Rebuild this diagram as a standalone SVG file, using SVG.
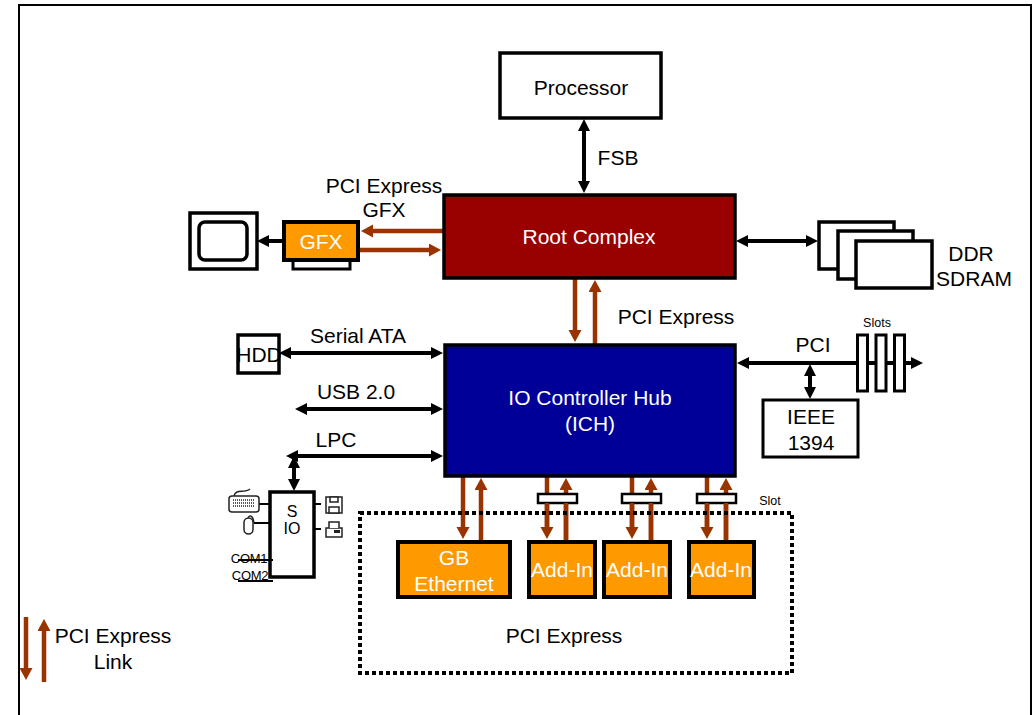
<svg xmlns="http://www.w3.org/2000/svg" width="1034" height="715" viewBox="0 0 1034 715">
<style>
text{font-family:"Liberation Sans",Arial,sans-serif;font-size:21px;fill:#000;text-anchor:middle}
text.w{fill:#fff}
text.s{font-size:12.5px}
.b{fill:#fff;stroke:#000;stroke-width:3.5}
.o{fill:#ff9900;stroke:#000;stroke-width:4}
.k{stroke:#000;stroke-width:4;fill:none}
.kk{marker-start:url(#ks);marker-end:url(#ke)}
.ke{marker-end:url(#ke)}
.r{stroke:#993300;stroke-width:4.5;fill:none;marker-end:url(#re)}
.i{fill:#fff;stroke:#222;stroke-width:1.5}
.t{stroke:#000;stroke-width:2;fill:none}
</style>
<defs>
<marker id="ke" markerUnits="userSpaceOnUse" markerWidth="14" markerHeight="14" refX="4" refY="6" orient="auto"><path d="M0,0L12,6L0,12z" fill="#000"/></marker>
<marker id="ks" markerUnits="userSpaceOnUse" markerWidth="14" markerHeight="14" refX="8" refY="6" orient="auto"><path d="M12,0L0,6L12,12z" fill="#000"/></marker>
<marker id="re" markerUnits="userSpaceOnUse" markerWidth="14" markerHeight="14" refX="4" refY="6.5" orient="auto"><path d="M0,0L12,6.5L0,13z" fill="#993300"/></marker>
</defs>
<rect width="1034" height="715" fill="#fff"/>
<path d="M19,715V5H1031V715" fill="none" stroke="#000" stroke-width="2"/>

<g id="connectors">
<path class="k kk" d="M584,127V185"/>
<path class="k ke" d="M284,241H265"/>
<path class="r" d="M443,231H369"/>
<path class="r" d="M360,250H433"/>
<path class="k kk" d="M744,241H810"/>
<path class="r" d="M575,278V334"/>
<path class="r" d="M595,344V288"/>
<path class="k kk" d="M287,353H435"/>
<path class="k kk" d="M303,409H435"/>
<path class="k" d="M294,456H435" style="marker-end:url(#ke)"/>
<path class="k" d="M303,456H294V483" style="marker-end:url(#ke)"/>
<path class="k" d="M294,484V464" style="marker-end:url(#ke)"/>
<path class="k" d="M303,456H294" style="marker-end:url(#ke)"/>
<path class="k kk" d="M745,363H915"/>
<path class="k kk" d="M810,372V391"/>
<path class="r" d="M463,476V531"/>
<path class="r" d="M481,541V486"/>
<path class="r" d="M547,476V531"/>
<path class="r" d="M566,541V486"/>
<path class="r" d="M632,476V531"/>
<path class="r" d="M651,541V486"/>
<path class="r" d="M707,476V531"/>
<path class="r" d="M726,541V486"/>
<path class="r" d="M26,617V672"/>
<path class="r" d="M44,682V627"/>
</g>

<g id="processor"><rect class="b" x="500" y="53" width="161" height="65"/><text x="581" y="95">Processor</text></g>
<text x="618" y="165">FSB</text>
<g id="root-complex"><rect x="444" y="195" width="291" height="83" fill="#990000" stroke="#000" stroke-width="3.5"/><text class="w" x="589" y="244">Root Complex</text></g>
<text x="384" y="193">PCI Express</text><text x="384" y="217">GFX</text>
<g id="monitor"><rect class="b" x="190" y="213" width="67" height="56"/><rect x="199" y="222" width="48" height="38" rx="6" fill="#fff" stroke="#000" stroke-width="3.5"/></g>
<g id="gfx"><rect class="b" x="293" y="258" width="57" height="11" style="stroke-width:3"/><rect class="o" x="284" y="222" width="74" height="38"/><text class="w" x="321" y="249">GFX</text></g>
<g id="ddr-sdram">
<rect class="b" x="819" y="222" width="75" height="47"/>
<rect class="b" x="838" y="231" width="75" height="48"/>
<rect class="b" x="856" y="241" width="76" height="47"/>
<text x="971" y="261">DDR</text><text x="974" y="286">SDRAM</text></g>
<text x="676" y="324">PCI Express</text>
<g id="hdd"><rect class="b" x="238" y="335" width="41" height="38"/><text x="259" y="362">HDD</text></g>
<text x="358" y="343">Serial ATA</text>
<text x="356" y="399">USB 2.0</text>
<text x="336" y="447">LPC</text>
<g id="ich"><rect x="445" y="345" width="290" height="131" fill="#000099" stroke="#000" stroke-width="3.5"/><text class="w" x="590" y="405">IO Controller Hub</text><text class="w" x="590" y="431">(ICH)</text></g>
<text x="813" y="352">PCI</text>
<text class="s" x="877" y="327">Slots</text>
<g id="pci-slots">
<rect class="b" x="857.500" y="335" width="10" height="56" style="stroke-width:3"/>
<rect class="b" x="876" y="335" width="10" height="56" style="stroke-width:3"/>
<rect class="b" x="894.500" y="335" width="10" height="56" style="stroke-width:3"/>
</g>
<g id="ieee-1394"><rect class="b" x="763" y="400" width="95" height="57" style="stroke-width:3"/><text x="811" y="424">IEEE</text><text x="811" y="450">1394</text></g>

<g id="super-io">
<rect class="b" x="270" y="492" width="44" height="85" style="stroke-width:3.5"/>
<text x="292" y="517" style="font-size:16px">S</text><text x="292" y="534" style="font-size:16px">IO</text>
<path class="t" d="M259,504H270M254,523H270M321,504H314M321,529H314"/>
<path class="t" d="M238,560H273M238,581H273"/>
<text x="249" y="563" style="font-size:13px;letter-spacing:-.3px">COM1</text>
<text x="250" y="580" style="font-size:13px;letter-spacing:-.3px">COM2</text>
</g>
<g id="keyboard"><rect class="i" x="229" y="496" width="30" height="16" rx="3"/><path d="M233,500H255M233,503H255M233,506H255" stroke="#222" stroke-width="1.500" stroke-dasharray="1 1"/><path d="M234,496C236,488 244,494 250,489" class="i" style="fill:none"/></g>
<g id="mouse"><rect class="i" x="244" y="518" width="9" height="16" rx="4.500"/><path class="i" style="fill:none" d="M248,518C250,514 253,516 254,523"/></g>
<g id="floppy"><rect class="i" x="326" y="497" width="16" height="16"/><rect class="i" x="330" y="497" width="8" height="5"/><rect class="i" x="329" y="507" width="10" height="6"/></g>
<g id="printer"><rect class="i" x="326" y="528" width="16" height="9"/><path class="i" d="M329,528V522H339V528"/><rect x="334" y="530" width="6" height="3" fill="#222"/></g>

<text class="s" x="770" y="505">Slot</text>
<g id="pcie-slots">
<rect class="b" x="538" y="494" width="39" height="9" style="stroke-width:2.500"/>
<rect class="b" x="622" y="494" width="39" height="9" style="stroke-width:2.500"/>
<rect class="b" x="697" y="494" width="39" height="9" style="stroke-width:2.500"/>
</g>
<g id="connectors-over-slots">
<path d="M547,503V531M566,503V541M632,503V531M651,503V541M707,503V531M726,503V541" stroke="#993300" stroke-width="4.500"/>
</g>
<g id="pci-express-area"><rect x="360" y="513" width="432" height="160" fill="none" stroke="#000" stroke-width="4" stroke-dasharray="4 3"/><text x="564" y="643">PCI Express</text></g>
<g id="gb-ethernet"><rect class="o" x="398" y="542" width="112" height="55"/><text class="w" x="454" y="565">GB</text><text class="w" x="454" y="591">Ethernet</text></g>
<g id="add-in-1"><rect class="o" x="529" y="542" width="66" height="55"/><text class="w" x="562" y="577">Add-In</text></g>
<g id="add-in-2"><rect class="o" x="604" y="542" width="66" height="55"/><text class="w" x="637" y="577">Add-In</text></g>
<g id="add-in-3"><rect class="o" x="689" y="542" width="65" height="55"/><text class="w" x="721" y="577">Add-In</text></g>
<g id="legend"><text x="113" y="643">PCI Express</text><text x="113" y="669">Link</text></g>
</svg>
